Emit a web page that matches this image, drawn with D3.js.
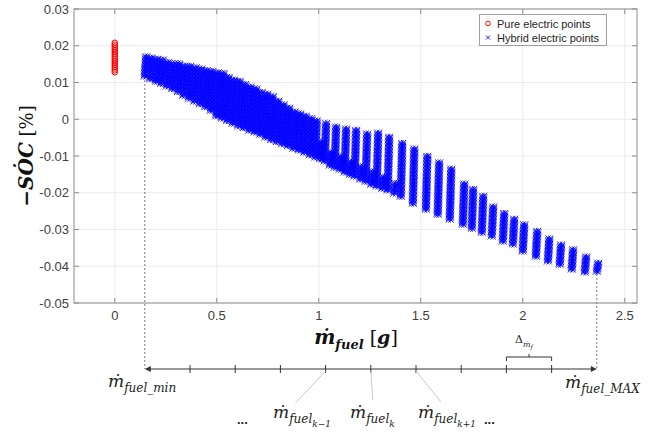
<!DOCTYPE html>
<html><head><meta charset="utf-8">
<script src="https://cdn.jsdelivr.net/npm/d3@7"></script>
<style>body{margin:0;background:#fff} svg{display:block}</style>
</head><body>
<svg id="chart" width="661" height="439"></svg>
<script>
// ---------------- data ----------------
const xTicks = [0, 0.5, 1, 1.5, 2, 2.5];
const xTickLabels = ["0", "0.5", "1", "1.5", "2", "2.5"];
const yTicks = [0.03, 0.02, 0.01, 0, -0.01, -0.02, -0.03, -0.04, -0.05];
const yTickLabels = ["0.03", "0.02", "0.01", "0", "-0.01", "-0.02", "-0.03", "-0.04", "-0.05"];

const legendLabels = ["Pure electric points", "Hybrid electric points"];

// pure electric points (all at zero fuel)
const pureFuel = 0;
const pureSoc = [0.0128, 0.0133, 0.0138, 0.0143, 0.0148, 0.0153, 0.0158, 0.0163, 0.0168,
                 0.0173, 0.0178, 0.0183, 0.0188, 0.0193, 0.0198, 0.0203, 0.0208];

// hybrid electric point columns: fuel position, highest and lowest -SOC read per column
const hybridFuel = [0.147, 0.174, 0.201, 0.228, 0.255, 0.282, 0.309, 0.336, 0.363, 0.390, 0.417, 0.444,
  0.471, 0.498, 0.525, 0.551, 0.578, 0.605, 0.632, 0.659, 0.686, 0.713, 0.740, 0.767, 0.794, 0.821,
  0.848, 0.875, 0.902, 0.929, 0.956, 0.983, 1.006,
  1.029, 1.054, 1.078, 1.103, 1.127, 1.152, 1.176, 1.203, 1.230, 1.257, 1.284, 1.311, 1.338, 1.370,
  1.402, 1.461, 1.525, 1.583, 1.642, 1.706, 1.750, 1.799, 1.848, 1.902, 1.951, 2.000, 2.064, 2.123,
  2.181, 2.240, 2.304, 2.363];
const hybridTop = [0.0175, 0.0172, 0.0168, 0.0164, 0.0160, 0.0156, 0.0153, 0.0150, 0.0148, 0.0145, 0.0141, 0.0137,
  0.0134, 0.0130, 0.0127, 0.0118, 0.0112, 0.0106, 0.0099, 0.0092, 0.0085, 0.0078, 0.0071, 0.0064, 0.0055, 0.0045,
  0.0036, 0.0025, 0.0017, 0.0012, 0.0006, 0.0001, -0.0060,
  -0.0008, -0.0086, -0.0016, -0.0097, -0.0021, -0.0111, -0.0027, -0.0124, -0.0035, -0.0138, -0.0035, -0.0152, -0.0043, -0.0171,
  -0.0062, -0.0078, -0.0097, -0.0116, -0.0133, -0.0171, -0.0187, -0.0206, -0.0233, -0.0252, -0.0269, -0.0282, -0.0301, -0.0323,
  -0.0337, -0.0350, -0.0369, -0.0388];
const hybridBottom = [0.0115, 0.0108, 0.0101, 0.0095, 0.0088, 0.0081, 0.0073, 0.0063, 0.0055, 0.0047, 0.0040, 0.0032,
  0.0022, 0.0007, 0.0001, -0.0006, -0.0013, -0.0020, -0.0025, -0.0032, -0.0037, -0.0043, -0.0051, -0.0058, -0.0063, -0.0069,
  -0.0074, -0.0081, -0.0086, -0.0092, -0.0099, -0.0105, -0.0110,
  -0.0116, -0.0127, -0.0133, -0.0138, -0.0146, -0.0152, -0.0157, -0.0165, -0.0171, -0.0179, -0.0184, -0.0190, -0.0195, -0.0203,
  -0.0212, -0.0231, -0.0247, -0.0261, -0.0274, -0.0288, -0.0299, -0.0310, -0.0320, -0.0334, -0.0342, -0.0361, -0.0375, -0.0388,
  -0.0397, -0.0410, -0.0418, -0.0416];

const fuelMin = 0.147, fuelMax = 2.363, fuelSteps = 10;

// ---------------- layout ----------------
const svg = d3.select("#chart");
const L = 74, R = 637, T = 9, B = 303;
const x = d3.scaleLinear().domain([-0.2, 2.56]).range([L, R]);
const y = d3.scaleLinear().domain([-0.05, 0.03]).range([B, T]);

const gridColor = "#ebebeb", axisColor = "#8c8c8c", labelColor = "#404040";
const sansFont = "'Liberation Sans', Arial, sans-serif";
const serif = "'DejaVu Serif', serif";

// grid
const grid = svg.append("g");
grid.selectAll(".gx").data(xTicks).join("line")
  .attr("x1", d => x(d)).attr("x2", d => x(d)).attr("y1", T).attr("y2", B)
  .attr("stroke", gridColor).attr("stroke-width", 1);
grid.selectAll(".gy").data(yTicks).join("line")
  .attr("x1", L).attr("x2", R).attr("y1", d => y(d)).attr("y2", d => y(d))
  .attr("stroke", gridColor).attr("stroke-width", 1);

// dotted guides for min/max fuel
const annY = 369;
svg.append("line").attr("x1", x(fuelMin)).attr("x2", x(fuelMin))
  .attr("y1", y(hybridBottom[0]) + 3).attr("y2", annY)
  .attr("stroke", "#7a7a7a").attr("stroke-dasharray", "2,2").attr("stroke-width", 1);
svg.append("line").attr("x1", x(fuelMax)).attr("x2", x(fuelMax))
  .attr("y1", y(hybridBottom[hybridBottom.length - 1]) + 2).attr("y2", annY)
  .attr("stroke", "#7a7a7a").attr("stroke-dasharray", "2,2").attr("stroke-width", 1);

// hybrid points
const s = 2.6;
const xPath = `M${-s},${-s}L${s},${s}M${-s},${s}L${s},${-s}`;
const hybridPts = [];
hybridFuel.forEach((f, i) => {
  const yb = y(hybridBottom[i]), yt = y(hybridTop[i]);
  for (let py = yb; py >= yt - 0.01; py -= 1.4) {
    const frac = (yb - py) / Math.max(1, yb - yt);
    hybridPts.push([x(f) - 1.3 + frac * 1.5, py]);
    hybridPts.push([x(f) + 1.3 + frac * 1.5, py]);
  }
});
svg.append("g").selectAll("path").data(hybridPts).join("path")
  .attr("d", xPath).attr("transform", d => `translate(${d[0]},${d[1]})`)
  .attr("stroke", "#0000ff").attr("stroke-width", 0.9).attr("fill", "none");

// pure points
svg.append("g").selectAll("circle").data(pureSoc).join("circle")
  .attr("cx", x(pureFuel)).attr("cy", d => y(d)).attr("r", 2.8)
  .attr("fill", "none").attr("stroke", "#ff0000").attr("stroke-width", 1);

// axes box
const ax = svg.append("g");
ax.append("rect").attr("x", L).attr("y", T).attr("width", R - L).attr("height", B - T)
  .attr("fill", "none").attr("stroke", axisColor).attr("stroke-width", 1);
const tl = 5;
ax.selectAll(".tb").data(xTicks).join("line")
  .attr("x1", d => x(d)).attr("x2", d => x(d)).attr("y1", B).attr("y2", B - tl).attr("stroke", axisColor);
ax.selectAll(".tt").data(xTicks).join("line")
  .attr("x1", d => x(d)).attr("x2", d => x(d)).attr("y1", T).attr("y2", T + tl).attr("stroke", axisColor);
ax.selectAll(".tlft").data(yTicks).join("line")
  .attr("x1", L).attr("x2", L + tl).attr("y1", d => y(d)).attr("y2", d => y(d)).attr("stroke", axisColor);
ax.selectAll(".trt").data(yTicks).join("line")
  .attr("x1", R).attr("x2", R - tl).attr("y1", d => y(d)).attr("y2", d => y(d)).attr("stroke", axisColor);

ax.selectAll(".xl").data(xTicks).join("text")
  .attr("x", d => x(d)).attr("y", B + 17).attr("text-anchor", "middle")
  .attr("font-family", sansFont).attr("font-size", 13).attr("fill", labelColor)
  .text((d, i) => xTickLabels[i]);
ax.selectAll(".yl").data(yTicks).join("text")
  .attr("x", L - 5).attr("y", d => y(d) + 4.5).attr("text-anchor", "end")
  .attr("font-family", sansFont).attr("font-size", 13).attr("fill", labelColor)
  .text((d, i) => yTickLabels[i]);

// axis titles
const xt = svg.append("text").attr("x", 356).attr("y", 344).attr("text-anchor", "middle")
  .attr("font-family", serif).attr("fill", "#111");
xt.append("tspan").attr("font-size", 20).attr("font-weight", "bold").attr("font-style", "italic").text("ṁ");
xt.append("tspan").attr("font-size", 13).attr("font-weight", "bold").attr("font-style", "italic").attr("dy", 5).text("fuel");
xt.append("tspan").attr("font-size", 19).attr("dy", -5).text(" [");
xt.append("tspan").attr("font-size", 19).attr("font-weight", "bold").attr("font-style", "italic").text("g");
xt.append("tspan").attr("font-size", 19).text("]");

const yt = svg.append("text").attr("transform", "translate(33,156) rotate(-90)").attr("text-anchor", "middle")
  .attr("font-family", serif).attr("fill", "#111");
yt.append("tspan").attr("font-size", 20).attr("font-weight", "bold").attr("font-style", "italic").text("−SȮC");
yt.append("tspan").attr("font-size", 18).text("  [%]");

// legend
const lg = svg.append("g");
lg.append("rect").attr("x", 479.5).attr("y", 14.5).attr("width", 127).attr("height", 31)
  .attr("fill", "#fff").attr("stroke", "#a0a0a0").attr("stroke-width", 1);
lg.append("circle").attr("cx", 488).attr("cy", 23.5).attr("r", 2.3).attr("fill", "none").attr("stroke", "#ff0000").attr("stroke-width", 1);
lg.append("path").attr("d", `M-2,-2L2,2M-2,2L2,-2`).attr("transform", "translate(488,37.5)")
  .attr("stroke", "#0000ff").attr("stroke-width", 0.9).attr("fill", "none");
lg.selectAll("text").data(legendLabels).join("text")
  .attr("x", 497).attr("y", (d, i) => 27.5 + i * 14)
  .attr("font-family", sansFont).attr("font-size", 11).attr("fill", "#262626").text(d => d);

// ---------------- annotation below the axis ----------------
const an = svg.append("g");
const ink = "#333";
const x0 = x(fuelMin), x1 = x(fuelMax);
an.append("line").attr("x1", x0 + 3).attr("x2", x1 - 4).attr("y1", annY).attr("y2", annY).attr("stroke", ink).attr("stroke-width", 1);
an.append("path").attr("d", `M${x0},${annY}l6,-3v6z`).attr("fill", ink);
an.append("path").attr("d", `M${x1},${annY}l-6,-3v6z`).attr("fill", ink);
const stepFuel = d3.range(1, fuelSteps).map(k => fuelMin + (fuelMax - fuelMin) * k / fuelSteps);
an.selectAll(".st").data(stepFuel).join("line")
  .attr("x1", d => x(d)).attr("x2", d => x(d)).attr("y1", annY - 4).attr("y2", annY + 4)
  .attr("stroke", ink).attr("stroke-width", 1);

// brace over last-but-one interval
const bA = x(stepFuel[7]), bB = x(stepFuel[8]), bM = (bA + bB) / 2;
an.append("path").attr("d", `M${bA},${annY - 8}V${annY - 12}H${bB}V${annY - 8}M${bM},${annY - 12}v-3`)
  .attr("fill", "none").attr("stroke", ink).attr("stroke-width", 1);
const dl = an.append("text").attr("x", bM - 14).attr("y", 343).attr("font-family", serif).attr("fill", "#222");
dl.append("tspan").attr("font-size", 11).text("Δ");
dl.append("tspan").attr("font-size", 8).attr("font-style", "italic").attr("dy", 4).text("ṁ");
dl.append("tspan").attr("font-size", 6).attr("font-style", "italic").attr("dy", 2).text("f");

// leader lines
const k = [stepFuel[3], stepFuel[4], stepFuel[5]];
an.append("line").attr("x1", x(k[0])).attr("y1", annY + 2).attr("x2", x(k[0]) - 30).attr("y2", 403).attr("stroke", "#c8c8c8");
an.append("line").attr("x1", x(k[1])).attr("y1", annY + 2).attr("x2", x(k[1]) + 2).attr("y2", 400).attr("stroke", "#c8c8c8");
an.append("line").attr("x1", x(k[2])).attr("y1", annY + 2).attr("x2", x(k[2]) + 25).attr("y2", 402).attr("stroke", "#c8c8c8");

function mLabel(px, py, sub, subsub, anchor) {
  const t = an.append("text").attr("x", px).attr("y", py).attr("font-family", serif)
    .attr("font-style", "italic").attr("fill", "#222").attr("text-anchor", anchor || "start");
  t.append("tspan").attr("font-size", 17).text("ṁ");
  t.append("tspan").attr("font-size", 12).attr("dy", 5).text(sub);
  if (subsub) t.append("tspan").attr("font-size", 9).attr("dy", 4).text(subsub);
  return t;
}
mLabel(108, 387, "fuel_min");
mLabel(565, 388, "fuel_MAX");
mLabel(273, 418, "fuel", "k−1");
mLabel(350, 418, "fuel", "k");
mLabel(418, 418, "fuel", "k+1");
an.append("text").attr("x", 237).attr("y", 424).attr("font-family", sansFont).attr("font-size", 13).attr("font-weight", "bold").attr("fill", "#222").text("...");
an.append("text").attr("x", 484).attr("y", 424).attr("font-family", sansFont).attr("font-size", 13).attr("font-weight", "bold").attr("fill", "#222").text("...");
</script>
</body></html>
